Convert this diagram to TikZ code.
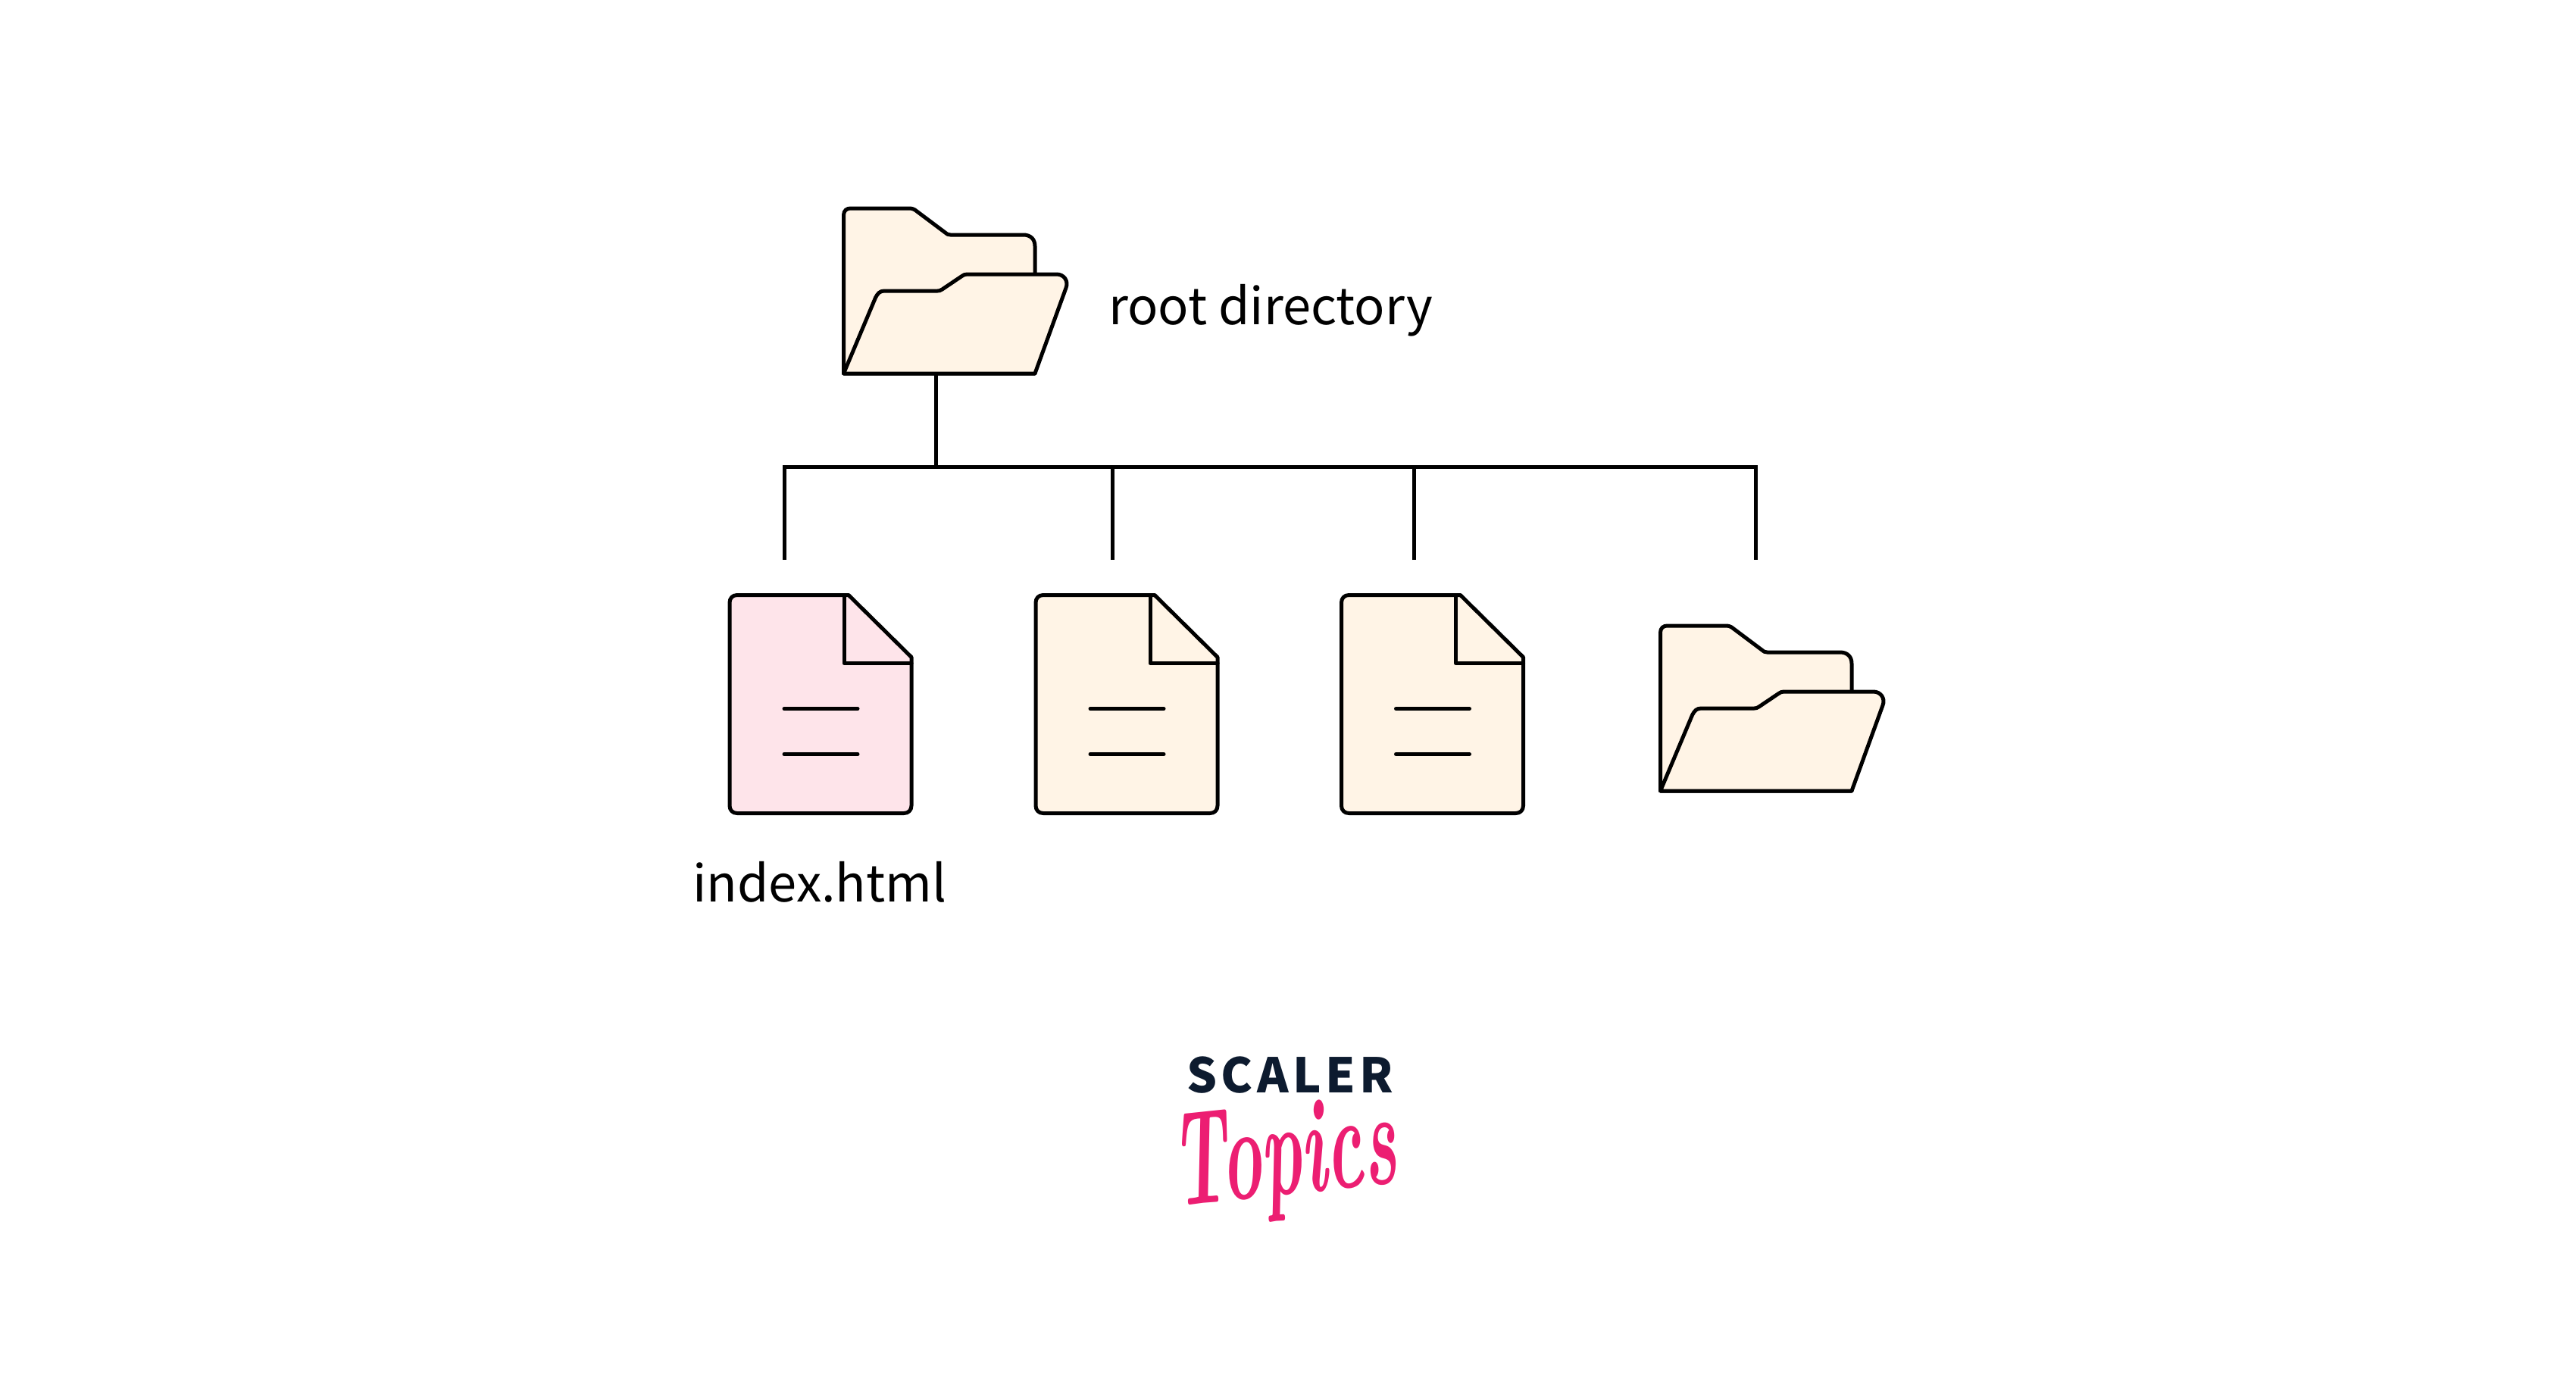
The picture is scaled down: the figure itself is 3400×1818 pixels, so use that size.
\documentclass[tikz,border=0pt]{standalone}
\usepackage{fontspec}
\setmainfont{Noto Sans CJK SC}
\newfontfamily\logofont{Noto Sans CJK SC}[LetterSpace=8.5]
\newfontfamily\swashfont{Latin Modern Roman}
\definecolor{cream}{HTML}{FFF4E6}
\definecolor{blush}{HTML}{FEE4EA}
\definecolor{logonavy}{HTML}{0D1B2F}
\definecolor{logopink}{HTML}{EC1E72}
\tikzset{
  outline/.style={draw=black,line width=5pt,line join=round,line cap=round},
  conn/.style={draw=black,line width=5pt},
  label/.style={inner sep=0pt,font=\fontsize{66.8}{80}\selectfont,text=black,anchor=base west},
  pics/folder/.style={code={
    \path[outline,fill=cream]
      (0,218) -- (0,9) .. controls (0,3) and (4,0) .. (9,0) -- (88,0)
      .. controls (90,0) and (92,1) .. (94,2) -- (134,32)
      .. controls (136,34) and (138,35) .. (141,35) -- (237,35)
      .. controls (247,35) and (252.5,41) .. (252.5,50) -- (252.5,218) -- cycle;
    \path[outline,fill=cream]
      (0,218) -- (42,118) .. controls (45,112) and (48,109) .. (54,109) -- (124,109)
      .. controls (126,109) and (128,108.5) .. (130,107) -- (156,89.5)
      .. controls (158,88) and (160,87) .. (163,87) -- (281,87)
      .. controls (291,87) and (297,96) .. (293.5,105) -- (252.5,218) -- cycle;
  }},
  pics/paper/.style={code={
    \path[outline,fill=#1]
      (0,10) .. controls (0,4) and (4,0) .. (10,0) -- (157,0) -- (240,82) -- (240,278)
      .. controls (240,284) and (236,288) .. (230,288) -- (10,288)
      .. controls (4,288) and (0,284) .. (0,278) -- cycle;
    \path[outline] (151,0) -- (151,90) -- (240,90);
    \path[outline] (72,150) -- (169,150);
    \path[outline] (72,210) -- (169,210);
  }}
}
\begin{document}
\begin{tikzpicture}[x=1pt,y=-1pt]
\useasboundingbox (0,0) rectangle (3400,1818);
\fill[white] (0,0) rectangle (3400,1818);
% connectors
\coordinate (rootfoot) at (1235,493);
\coordinate (bus) at (1235,616);
\coordinate (busright) at (2317,616);
\coordinate (dropa) at (1035,739);
\coordinate (dropb) at (1468,739);
\coordinate (dropc) at (1866,739);
\coordinate (dropd) at (2317,739);
\draw[conn] (rootfoot) -- (bus);
\draw[conn] (dropa) |- (busright) -- (dropd);
\draw[conn] (dropb) -- (dropb |- bus);
\draw[conn] (dropc) -- (dropc |- bus);
% icons
\pic at (1113.5,275) {folder};
\pic at (2191.5,826) {folder};
\pic at (963,785.5) {paper=blush};
\pic at (1367,785.5) {paper=cream};
\pic at (1770.5,785.5) {paper=cream};
% labels
\node[label] (rootlabel) at (1463,428) {root directory};
\node[label] (indexlabel) at (914,1190) {index.html};
% logo
\node[inner sep=0pt,anchor=base west,text=logonavy,font=\logofont\bfseries\fontsize{63}{70}\selectfont] (scaler) at (1566,1442) {SCALER};
\node[inner sep=0pt,anchor=base west,text=logopink,transform shape,rotate=6,xscale=.51,font=\swashfont\itshape\bfseries\fontsize{178}{178}\selectfont] (topics) at (1552,1592) {Topics};
\end{tikzpicture}
\end{document}
